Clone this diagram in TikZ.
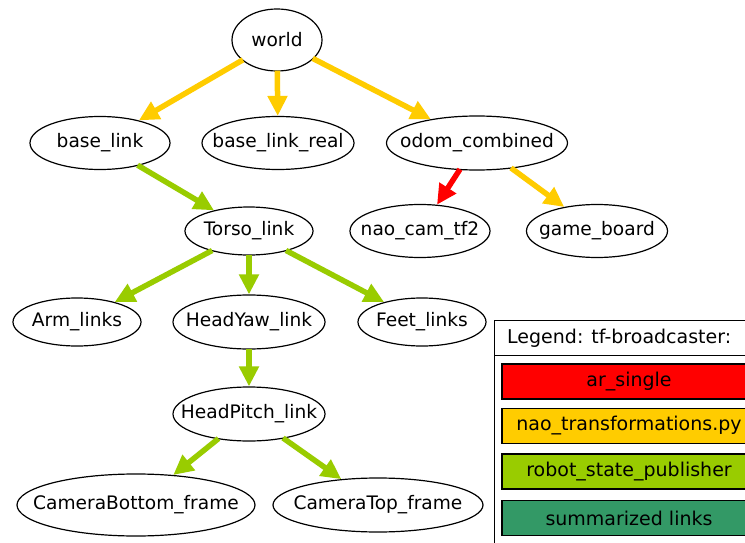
\documentclass[tikz,border=0pt]{standalone}
\usepackage{fontspec}
\setmainfont{DejaVu Sans}
\usetikzlibrary{shapes.geometric,arrows.meta}
\definecolor{cred}{HTML}{FF0000}
\definecolor{cyellow}{HTML}{FFCC00}
\definecolor{cgreen}{HTML}{99CC00}
\definecolor{cdark}{HTML}{339966}
% label of fixed-size frame ellipse: text takes no width of its own
\newcommand{\flabel}[1]{\makebox[0pt]{#1}}
\tikzset{
  frame/.style={ellipse, draw=black, line width=1.2pt, fill=white, inner sep=0pt,
    font=\fontsize{18.6}{21}\selectfont},
  tfedge/.style={line width=5.5pt, -{Triangle[length=20pt,width=19pt]}, shorten <=-1pt},
  yedge/.style={tfedge, draw=cyellow, fill=cyellow},
  gedge/.style={tfedge, draw=cgreen, fill=cgreen},
  redge/.style={tfedge, draw=cred, fill=cred},
  legbox/.style={draw=black, line width=1.3pt, minimum width=254pt, minimum height=35pt,
    inner sep=0pt, font=\fontsize{19}{22}\selectfont},
}
\begin{document}
\begin{tikzpicture}[x=1pt,y=-1pt]
\clip (0,0) rectangle (745,543);
\fill[white] (0,0) rectangle (745,543);

% frames
\node[frame, minimum width=90pt, minimum height=62pt] (world) at (277,40) {\flabel{world}};
\node[frame, minimum width=140pt, minimum height=53pt] (base) at (100,143) {\flabel{base\_link}};
\node[frame, minimum width=152pt, minimum height=53pt] (real) at (278,143) {\flabel{base\_link\_real}};
\node[frame, minimum width=181pt, minimum height=54pt] (odom) at (477,143) {\flabel{odom\_combined}};
\node[frame, minimum width=128pt, minimum height=48pt] (torso) at (249,231) {\flabel{Torso\_link}};
\node[frame, minimum width=140pt, minimum height=53pt] (naocam) at (420,231) {\flabel{nao\_cam\_tf2}};
\node[frame, minimum width=141pt, minimum height=53pt] (board) at (597,231) {\flabel{game\_board}};
\node[frame, minimum width=128pt, minimum height=48pt] (arm) at (77,322) {\flabel{Arm\_links}};
\node[frame, minimum width=152pt, minimum height=54pt] (yaw) at (249,322) {\flabel{HeadYaw\_link}};
\node[frame, minimum width=128pt, minimum height=48pt] (feet) at (422,322) {\flabel{Feet\_links}};
\node[frame, minimum width=152pt, minimum height=54pt] (pitch) at (249,414) {\flabel{HeadPitch\_link}};
\node[frame, minimum width=238pt, minimum height=62pt] (cbottom) at (136,505) {\flabel{CameraBottom\_frame}};
\node[frame, minimum width=210pt, minimum height=54pt] (ctop) at (378,505) {\flabel{CameraTop\_frame}};

% transforms
\draw[yedge] (world) -- (base);
\draw[yedge] (world) -- (real);
\draw[yedge] (world) -- (odom);
\draw[gedge] (base) -- (torso);
\draw[redge] (odom) -- (naocam);
\draw[yedge] (odom) -- (board);
\draw[gedge] (torso) -- (arm);
\draw[gedge] (torso) -- (yaw);
\draw[gedge] (torso) -- (feet);
\draw[gedge] (yaw) -- (pitch);
\draw[gedge] (pitch) -- (cbottom);
\draw[gedge] (pitch) -- (ctop);

% legend
\draw[line width=1pt] (494,320) rectangle (770,560);
\draw[line width=1pt] (494,355) -- (770,355);
\node[anchor=west, font=\fontsize{19}{22}\selectfont, inner sep=0pt] (legtitle) at (507,338) {Legend: tf-broadcaster:};
\node[legbox, fill=cred] (lred) at (629,381.5) {ar\_single};
\node[legbox, fill=cyellow] (lyellow) at (629,426) {nao\_transformations.py};
\node[legbox, fill=cgreen] (lgreen) at (629,471.5) {robot\_state\_publisher};
\node[legbox, fill=cdark] (ldark) at (629,518) {summarized links};
\end{tikzpicture}
\end{document}
